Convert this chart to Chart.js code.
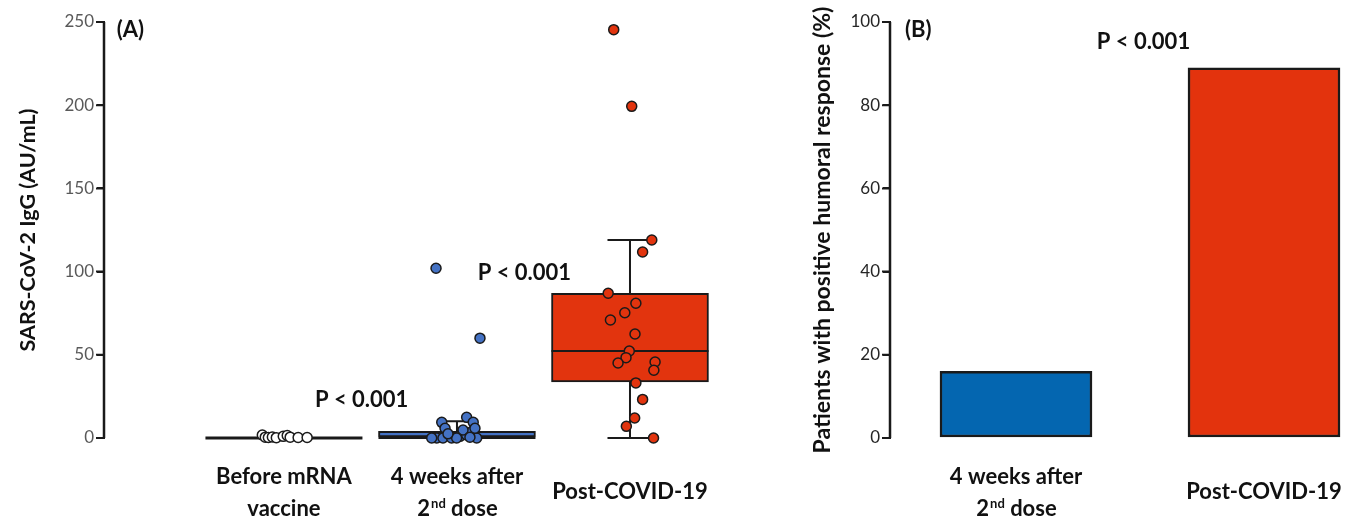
<!DOCTYPE html>
<html>
<head>
<meta charset="utf-8">
<script src="https://cdn.jsdelivr.net/npm/chart.js"></script>
<style>
  body { margin: 0; background: #fff; }
  #wrap { position: relative; width: 1359px; height: 517px; }
  .panel { position: absolute; top: 0; }
</style>
</head>
<body>
<div id="wrap">
  <div class="panel" style="left:0;width:790px;height:517px"><canvas id="chartA" width="790" height="517"></canvas></div>
  <div class="panel" style="left:790px;width:569px;height:517px"><canvas id="chartB" width="569" height="517"></canvas></div>
</div>
<script>
// ---- Panel A: IgG per group (box + points) ----
const groupsA = [['Before mRNA', 'vaccine'], ['4 weeks after', '2nd dose'], ['Post-COVID-19']];
const boxLow = [0, 0, 33.7];
const boxHigh = [0, 4, 87];
const medians = [0, 0, 52.3];
const whiskerLow = [0, 0, 0];
const whiskerHigh = [0, 10, 119];
const yTicksA = [0, 50, 100, 150, 200, 250];

const beforeValues = [1.8, 0.5, 0.3, 0.6, 0.2, 1, 1.5, 0.5, 0.3, 0.3];
const beforeJitter = [-0.125, -0.108, -0.090, -0.067, -0.044, -0.004, 0.019, 0.036, 0.082, 0.134];

const weeksValues = [102, 60, 9.4, 12.4, 9.4, 5.8, 0, 0, 0, 1, 1.8, 3.8, 0, 4.8, 0, 0, 5.8, 0.5, 2.5];
const weeksJitter = [-0.121, 0.133, -0.088, 0.056, 0.094, -0.069, -0.117, -0.081, -0.031, 0.017, 0.056, 0.085, 0.114, 0.035, -0.002, -0.146, 0.104, 0.075, -0.052];

const postValues = [245.4, 199.3, 119, 111.8, 87, 81, 75.3, 70.9, 62.5, 52.3, 48.3, 45.1, 45.7, 40.7, 33.1, 23.2, 12, 7, 0];
const postJitter = [-0.094, 0.010, 0.126, 0.073, -0.126, 0.034, -0.030, -0.113, 0.029, -0.004, -0.023, -0.069, 0.145, 0.138, 0.034, 0.073, 0.027, -0.021, 0.136];

// ---- Panel B: % positive humoral response ----
const groupsB = [['4 weeks after', '2nd dose'], ['Post-COVID-19']];
const positivePct = [16, 89];
const yTicksB = [0, 20, 40, 60, 80, 100];

// x ranges of the two panels (axis units)
const X_RANGE_A = [-1.04, 2.5];
const X_RANGE_B = [-0.508, 1.383];

const FONT_FAMILY = 'Lato, "Open Sans", sans-serif';
const LABEL_FONT = 'bold 22px ' + FONT_FAMILY;
const SUP_FONT = 'bold 13px ' + FONT_FAMILY;
const INK = '#111';
const AXIS = '#1a1a1a';

function points(values, jitter, group) {
    return values.map((v, i) => ({ x: group + jitter[i], y: v }));
}

// axis line as a dataset, running along the left edge of the x range
function axisLine(xMin, ticks) {
    return {
        type: 'line',
        label: 'axis',
        data: [{ x: xMin, y: ticks[0] }, { x: xMin, y: ticks[ticks.length - 1] }],
        borderColor: AXIS,
        borderWidth: 2.5,
        pointRadius: 0,
        pointHoverRadius: 0,
        fill: false,
        clip: false,
        order: 1
    };
}

// text with an ordinal superscript, e.g. "2nd dose"
function drawRich(ctx, text, cx, by) {
    const m = text.match(/^(\d+)(st|nd|rd|th)(.*)$/);
    ctx.textBaseline = 'alphabetic';
    if (!m) {
        ctx.font = LABEL_FONT;
        ctx.textAlign = 'center';
        ctx.fillText(text, cx, by);
        return;
    }
    ctx.font = LABEL_FONT;
    const w1 = ctx.measureText(m[1]).width;
    const w3 = ctx.measureText(m[3]).width;
    ctx.font = SUP_FONT;
    const w2 = ctx.measureText(m[2]).width;
    const x0 = cx - (w1 + w2 + w3) / 2;
    ctx.textAlign = 'left';
    ctx.font = LABEL_FONT;
    ctx.fillText(m[1], x0, by);
    ctx.font = SUP_FONT;
    ctx.fillText(m[2], x0 + w1 + 1, by - 8);
    ctx.font = LABEL_FONT;
    ctx.fillText(m[3], x0 + w1 + w2 + 1, by);
}

function drawCategoryLabels(chart, groups) {
    const ctx = chart.ctx;
    const xs = chart.scales.x;
    const bottom = chart.scales.y.getPixelForValue(chart.scales.y.min);
    ctx.save();
    ctx.fillStyle = INK;
    groups.forEach((lines, i) => {
        const cx = xs.getPixelForValue(i);
        if (lines.length === 1) {
            drawRich(ctx, lines[0], cx, bottom + 61);
        } else {
            lines.forEach((t, k) => drawRich(ctx, t, cx, bottom + 46 + k * 31.5));
        }
    });
    ctx.restore();
}

function drawNote(chart, text, xv, yv, align) {
    const ctx = chart.ctx;
    ctx.save();
    ctx.fillStyle = INK;
    ctx.font = LABEL_FONT;
    ctx.textAlign = align || 'center';
    ctx.textBaseline = 'alphabetic';
    ctx.fillText(text, chart.scales.x.getPixelForValue(xv), chart.scales.y.getPixelForValue(yv));
    ctx.restore();
}

// outward tick marks on the y axis
function drawYTicks(chart) {
    const ctx = chart.ctx;
    const ys = chart.scales.y;
    const x = chart.scales.x.getPixelForValue(chart.scales.x.min);
    ctx.save();
    ctx.strokeStyle = AXIS;
    ctx.lineWidth = 2;
    ctx.beginPath();
    ys.ticks.forEach(t => {
        const y = ys.getPixelForValue(t.value);
        ctx.moveTo(x - 8, y);
        ctx.lineTo(x, y);
    });
    ctx.stroke();
    ctx.restore();
}

function yAxis(ticks, width, titleText, titleSize, titlePad, tickColor) {
    return {
        min: ticks[0],
        max: ticks[ticks.length - 1],
        afterFit(scale) { scale.width = width; },
        afterBuildTicks(scale) { scale.ticks = ticks.map(v => ({ value: v })); },
        border: { display: true, color: AXIS, width: 2 },
        grid: { drawOnChartArea: false, tickLength: 7, color: AXIS, lineWidth: 2 },
        ticks: { color: tickColor, font: { family: FONT_FAMILY, size: 17 }, padding: 3 },
        title: {
            display: true,
            text: titleText,
            color: INK,
            font: { family: FONT_FAMILY, size: titleSize, weight: 'bold' },
            padding: { top: titlePad, bottom: 0 }
        }
    };
}

// whiskers, caps and median drawn right after the boxes, under the points
const BOX_PX = 157;
const CAP_PX = [0, 22, 45];
const boxParts = {
    id: 'boxParts',
    afterDatasetDraw(chart, args) {
        if (args.meta.type !== 'bar') return;
        const ctx = chart.ctx;
        const xs = chart.scales.x;
        const ys = chart.scales.y;
        ctx.save();
        ctx.strokeStyle = AXIS;
        groupsA.forEach((g, i) => {
            const cx = xs.getPixelForValue(i);
            ctx.lineWidth = 2;
            ctx.beginPath();
            if (whiskerHigh[i] > boxHigh[i]) {
                ctx.moveTo(cx, ys.getPixelForValue(boxHigh[i]));
                ctx.lineTo(cx, ys.getPixelForValue(whiskerHigh[i]));
                ctx.moveTo(cx - CAP_PX[i] / 2, ys.getPixelForValue(whiskerHigh[i]));
                ctx.lineTo(cx + CAP_PX[i] / 2, ys.getPixelForValue(whiskerHigh[i]));
            }
            if (whiskerLow[i] < boxLow[i]) {
                ctx.moveTo(cx, ys.getPixelForValue(boxLow[i]));
                ctx.lineTo(cx, ys.getPixelForValue(whiskerLow[i]));
                ctx.moveTo(cx - CAP_PX[i] / 2, ys.getPixelForValue(whiskerLow[i]));
                ctx.lineTo(cx + CAP_PX[i] / 2, ys.getPixelForValue(whiskerLow[i]));
            }
            ctx.stroke();
            // median
            ctx.lineWidth = boxHigh[i] === boxLow[i] ? 3 : 2;
            const my = ys.getPixelForValue(medians[i]);
            ctx.beginPath();
            ctx.moveTo(cx - BOX_PX / 2, my);
            ctx.lineTo(cx + BOX_PX / 2, my);
            ctx.stroke();
        });
        drawYTicks(chart);
        ctx.restore();
    },
    afterDraw(chart) {
        drawCategoryLabels(chart, groupsA);
        drawNote(chart, '(A)', -0.967, 240.7, 'left');
        drawNote(chart, 'P < 0.001', 0.449, 18.8);
        drawNote(chart, 'P < 0.001', 1.39, 95);
    }
};

const dot = (fill) => ({
    type: 'scatter',
    pointRadius: 5,
    pointHoverRadius: 5,
    pointBorderWidth: 1.5,
    pointBorderColor: AXIS,
    pointBackgroundColor: fill,
    clip: false,
    order: 0
});

new Chart(document.getElementById('chartA'), {
    type: 'bar',
    data: {
        datasets: [
            Object.assign(dot('#ffffff'), { label: 'Before mRNA vaccine', data: points(beforeValues, beforeJitter, 0) }),
            Object.assign(dot('#4472C4'), { label: '4 weeks after 2nd dose', data: points(weeksValues, weeksJitter, 1) }),
            Object.assign(dot('#E2340E'), { label: 'Post-COVID-19', data: points(postValues, postJitter, 2) }),
            axisLine(X_RANGE_A[0], yTicksA),
            {
                type: 'bar',
                label: 'IQR',
                data: groupsA.map((g, i) => ({ x: i, y: [boxLow[i], boxHigh[i]] })),
                backgroundColor: ['#ffffff', '#4472C4', '#E2340E'],
                borderColor: AXIS,
                borderWidth: 2,
                borderSkipped: false,
                barThickness: BOX_PX,
                clip: false,
                order: 2
            }
        ]
    },
    options: {
        responsive: false,
        animation: false,
        layout: { padding: { top: 22, bottom: 79, left: 0, right: 73.5 } },
        plugins: { legend: { display: false }, tooltip: { enabled: false } },
        scales: {
            x: { type: 'linear', offset: false, min: X_RANGE_A[0], max: X_RANGE_A[1], display: false },
            y: yAxis(yTicksA, 104, 'SARS-CoV-2 IgG (AU/mL)', 21.5, 15, '#595959')
        }
    },
    plugins: [boxParts]
});

new Chart(document.getElementById('chartB'), {
    type: 'bar',
    data: {
        datasets: [
            axisLine(X_RANGE_B[0], yTicksB),
            {
                label: 'Positive humoral response (%)',
                data: positivePct.map((v, i) => ({ x: i, y: v })),
                backgroundColor: ['#0466B0', '#E3330D'],
                borderColor: AXIS,
                borderWidth: 2.5,
                borderSkipped: false,
                barThickness: 152,
                order: 2
            }
        ]
    },
    options: {
        responsive: false,
        animation: false,
        layout: { padding: { top: 22, bottom: 79, left: 0, right: 0 } },
        plugins: { legend: { display: false }, tooltip: { enabled: false } },
        scales: {
            x: { type: 'linear', offset: false, min: X_RANGE_B[0], max: X_RANGE_B[1], display: false },
            y: yAxis(yTicksB, 100, 'Patients with positive humoral response (%)', 23, 19, '#262626')
        }
    },
    plugins: [{
        id: 'notesB',
        afterDatasetDraw(chart, args) {
            if (args.meta.type === 'bar') drawYTicks(chart);
        },
        afterDraw(chart) {
            drawCategoryLabels(chart, groupsB);
            drawNote(chart, '(B)', -0.448, 96.3, 'left');
            drawNote(chart, 'P < 0.001', 0.514, 93.5);
        }
    }]
});
</script>
</body>
</html>
